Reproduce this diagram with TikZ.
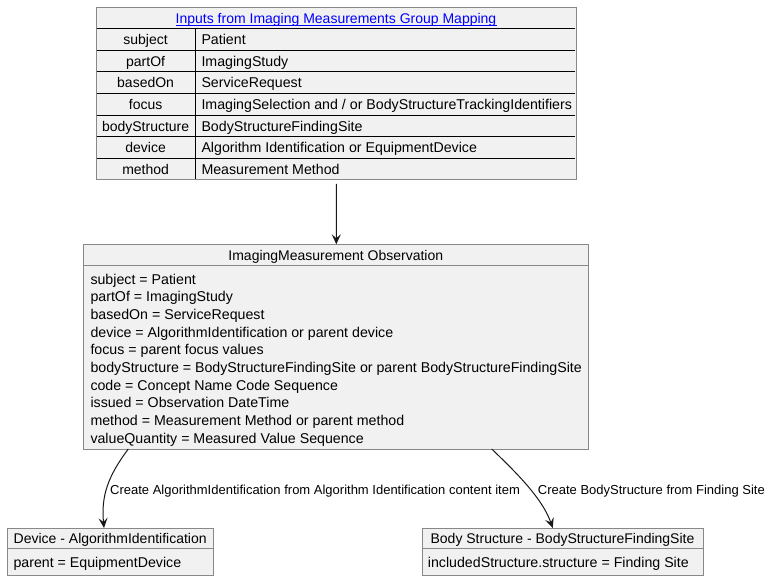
\documentclass[tikz,border=0pt]{standalone}
\usepackage{fontspec}
\setmainfont{Liberation Sans}
\usetikzlibrary{arrows.meta}
\definecolor{boxfill}{HTML}{F1F1F1}
\definecolor{boxline}{HTML}{888888}
\definecolor{linkblue}{HTML}{0000FF}
\definecolor{edgecol}{HTML}{181818}
\tikzset{
  umlbox/.style={draw=boxline, fill=boxfill, line width=1pt, anchor=north west, inner sep=0pt},
  sep/.style={draw=boxline, line width=1pt},
  tblsep/.style={draw=black, line width=1pt},
  txt/.style={font=\fontsize{14}{16}\selectfont, inner sep=0pt, text=black},
  ltxt/.style={font=\fontsize{14.2}{16}\selectfont, inner sep=0pt, text=black, anchor=base west},
  lbl/.style={font=\fontsize{13}{15}\selectfont, inner sep=0pt, text=black, anchor=base west},
  conn/.style={draw=edgecol, line width=1pt, -{Stealth[length=10pt,width=9pt,inset=4pt]}}
}
\begin{document}
\begin{tikzpicture}[x=1pt,y=-1pt]
\useasboundingbox (0,0) rectangle (771,581);

% ---- input table ----
\node[umlbox, minimum width=479.7pt, minimum height=172pt] (tbl) at (96,7.3) {};
\node[txt, anchor=base, text=linkblue] (tblhdr) at (336,23.6) {Inputs from Imaging Measurements Group Mapping};
\draw[linkblue, line width=0.9pt] ([yshift=-2.3pt]tblhdr.base west) -- ([yshift=-2.3pt]tblhdr.base east);
\foreach \top/\bot/\k/\v [count=\i] in {
  28.3/50.3/subject/Patient,
  50.3/71.3/partOf/ImagingStudy,
  71.3/93.3/basedOn/ServiceRequest,
  93.3/115.3/focus/{ImagingSelection and {/} or BodyStructureTrackingIdentifiers},
  115.3/136.3/bodyStructure/BodyStructureFindingSite,
  136.3/158.7/device/Algorithm Identification or EquipmentDevice,
  158.7/179.3/method/Measurement Method}{
  \draw[tblsep] (96.5,\top) -- (575.2,\top);
  \node[txt, anchor=base] (k\i) at (145.6,{\top+16.2}) {\k};
  \node[ltxt] (v\i) at (201.3,{\top+16.2}) {\v};
}
\draw[tblsep] (195.3,28.3) -- (195.3,178.8);

% ---- observation box ----
\node[umlbox, minimum width=505pt, minimum height=204.7pt] (obs) at (83.3,244.3) {};
\draw[sep] (83.3,265) -- (588.3,265);
\node[txt, anchor=base] (obshdr) at (335.8,260.2) {ImagingMeasurement Observation};
\foreach \t [count=\i] in {
  subject = Patient,
  partOf = ImagingStudy,
  basedOn = ServiceRequest,
  device = AlgorithmIdentification or parent device,
  focus = parent focus values,
  bodyStructure = BodyStructureFindingSite or parent BodyStructureFindingSite,
  code = Concept Name Code Sequence,
  issued = Observation DateTime,
  method = Measurement Method or parent method,
  valueQuantity = Measured Value Sequence}{
  \node[ltxt] (o\i) at (90.3,{284.2+(\i-1)*17.65}) {\t};
}

% ---- device box ----
\node[umlbox, minimum width=205.7pt, minimum height=47pt] (dev) at (7.3,528) {};
\draw[sep] (7.3,548.3) -- (213,548.3);
\node[txt, anchor=base] (devhdr) at (110.2,543.4) {Device - AlgorithmIdentification};
\node[ltxt] (devbody) at (13.3,567.6) {parent = EquipmentDevice};

% ---- body structure box ----
\node[umlbox, minimum width=281.6pt, minimum height=47pt] (bs) at (421.7,528) {};
\draw[sep] (421.7,548.3) -- (703.3,548.3);
\node[txt, anchor=base] (bshdr) at (562.5,543.4) {Body Structure - BodyStructureFindingSite};
\node[ltxt] (bsbody) at (427.7,567.6) {includedStructure.structure = Finding Site};

% ---- connectors ----
\draw[conn] ([yshift=-3.5pt]tbl.south) -- (obs.north);
\coordinate (s1) at (128.3,449);
\coordinate (e1) at (104,528);
\coordinate (s2) at (491.7,449);
\coordinate (e2) at (552.7,528);
\draw[conn] (s1) .. controls (108,476) and (101,496) .. (e1);
\draw[conn] (s2) .. controls (520,476) and (543,500) .. (e2);
\node[lbl] (l1) at (110,494.6) {Create AlgorithmIdentification from Algorithm Identification content item};
\node[lbl] (l2) at (537.7,494.6) {Create BodyStructure from Finding Site};
\end{tikzpicture}
\end{document}
